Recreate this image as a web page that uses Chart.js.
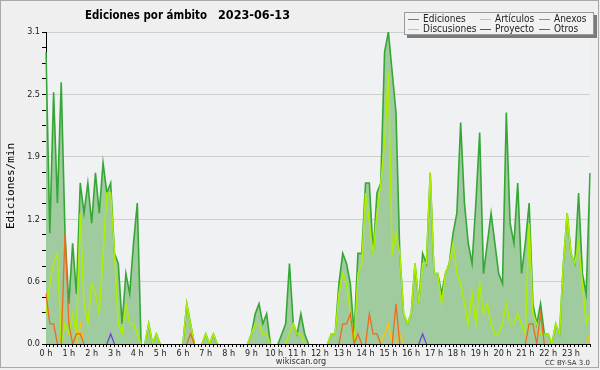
<!DOCTYPE html>
<html>
<head>
<meta charset="UTF-8">
<title>Ediciones por ámbito 2023-06-13</title>
<script src="https://cdn.jsdelivr.net/npm/chart.js@4"></script>
<style>
  html, body { margin: 0; padding: 0; background: #efefef; }
  #wrap { width: 600px; height: 370px; }
</style>
</head>
<body>
<div id="wrap"><canvas id="chart" width="600" height="370"></canvas></div>
<script>
// one value per 10 minutes, six per hour (rows = hours 0..23)
const hourLabels = ['0 h','1 h','2 h','3 h','4 h','5 h','6 h','7 h','8 h','9 h','10 h','11 h',
                    '12 h','13 h','14 h','15 h','16 h','17 h','18 h','19 h','20 h','21 h','22 h','23 h'];
const yTickLabels = ['0.0','0.6','1.2','1.9','2.5','3.1'];

const ediciones = [
  2.9, 1.1, 2.5, 1.4, 2.6, 1.1,
  0.4, 1.0, 0.5, 1.6, 1.3, 1.6,
  1.2, 1.7, 1.3, 1.8, 1.5, 1.6,
  0.9, 0.8, 0.2, 0.7, 0.5, 1.0,
  1.4, 0, 0, 0.2, 0, 0.1,
  0, 0, 0, 0, 0, 0,
  0, 0.4, 0.2, 0, 0, 0,
  0.1, 0, 0.1, 0, 0, 0,
  0, 0, 0, 0, 0, 0,
  0.1, 0.3, 0.4, 0.2, 0.3, 0,
  0, 0, 0.1, 0.2, 0.8, 0.2,
  0.1, 0.3, 0.1, 0, 0, 0,
  0, 0, 0, 0.1, 0.1, 0.6,
  0.9, 0.8, 0.6, 0.1, 0.9, 0.9,
  1.6, 1.6, 0.9, 1.5, 1.6, 2.9,
  3.1, 2.7, 2.3, 0.9, 0.3, 0.2,
  0.3, 0.8, 0.4, 0.9, 0.8, 1.7,
  0.7, 0.7, 0.5, 0.7, 0.8, 1.1,
  1.3, 2.2, 1.4, 1.0, 0.8, 1.4,
  2.1, 0.7, 1.0, 1.3, 1.0, 0.7,
  0.6, 2.3, 1.2, 1.0, 1.6, 0.7,
  1.0, 1.4, 0.4, 0.2, 0.4, 0.1,
  0.1, 0, 0.2, 0.1, 0.8, 1.3,
  0.9, 0.8, 1.5, 0.7, 0.5, 1.7
];
const articulos = [
  0.3, 0.6, 0.8, 0.9, 0, 0.2,
  0.1, 0.3, 0.1, 1.3, 0.4, 0.2,
  0.6, 0.5, 0.3, 0.9, 1.5, 1.5,
  0.9, 0.2, 0.1, 0.4, 0.2, 0.2,
  0.1, 0, 0, 0.2, 0, 0.1,
  0, 0, 0, 0, 0, 0,
  0, 0.4, 0.2, 0, 0, 0,
  0.1, 0, 0.1, 0, 0, 0,
  0, 0, 0, 0, 0, 0,
  0.1, 0.2, 0.2, 0.1, 0.1, 0,
  0, 0, 0, 0, 0.1, 0.2,
  0.1, 0.1, 0, 0, 0, 0,
  0, 0, 0, 0.1, 0.1, 0.5,
  0.7, 0.6, 0.3, 0, 0.7, 0.8,
  1.5, 1.2, 0.9, 1.3, 1.6, 2.0,
  2.7, 0.9, 1.1, 0.9, 0.3, 0.2,
  0.3, 0.8, 0.4, 0.8, 0.8, 1.7,
  0.7, 0.7, 0.4, 0.7, 0.8, 1.0,
  0.7, 0.6, 0.4, 0.2, 0.5, 0.2,
  0.6, 0.3, 0.4, 0.2, 0.1, 0.1,
  0.2, 0.4, 0.2, 0.2, 0.3, 0.2,
  0.1, 1.2, 0.3, 0.2, 0.1, 0.1,
  0.1, 0, 0.2, 0.1, 0.8, 1.3,
  0.9, 0.8, 1.0, 0.6, 0.2, 0.3
];
const anexos = [
  0.5, 0.2, 0.2, 0, 0, 1.1,
  0.2, 0, 0.1, 0.1, 0, 0,
  0, 0, 0, 0, 0, 0,
  0, 0, 0, 0, 0, 0,
  0, 0, 0, 0, 0, 0,
  0, 0, 0, 0, 0, 0,
  0, 0, 0.1, 0, 0, 0,
  0, 0, 0, 0, 0, 0,
  0, 0, 0, 0, 0, 0,
  0, 0, 0, 0, 0, 0,
  0, 0, 0, 0, 0, 0,
  0, 0, 0, 0, 0, 0,
  0, 0, 0, 0, 0, 0,
  0.2, 0.2, 0.3, 0, 0.1, 0,
  0, 0.3, 0.1, 0.1, 0, 0,
  0, 0, 0.4, 0, 0, 0,
  0, 0, 0, 0, 0, 0,
  0, 0, 0, 0, 0, 0,
  0, 0, 0, 0, 0, 0,
  0, 0, 0, 0, 0, 0,
  0, 0, 0, 0, 0, 0,
  0, 0.2, 0.2, 0, 0.3, 0,
  0, 0, 0, 0, 0, 0,
  0, 0, 0, 0, 0, 0
];
const discusiones = [
  0, 0, 0, 0, 0, 0,
  0, 0, 0, 0.2, 0, 0,
  0, 0, 0, 0, 0, 0,
  0, 0, 0, 0, 0, 0,
  0, 0, 0, 0, 0, 0,
  0, 0, 0, 0, 0, 0,
  0, 0, 0, 0, 0, 0,
  0, 0, 0, 0, 0, 0,
  0, 0, 0, 0, 0, 0,
  0, 0, 0, 0, 0, 0,
  0, 0, 0, 0, 0, 0,
  0, 0, 0, 0, 0, 0,
  0, 0, 0, 0, 0, 0,
  0, 0, 0, 0, 0, 0,
  0, 0, 0, 0, 0, 0.1,
  0.2, 0, 0, 0.1, 0, 0,
  0, 0, 0, 0, 0, 0,
  0, 0, 0, 0, 0, 0,
  0, 0, 0, 0, 0, 0,
  0, 0, 0, 0, 0, 0,
  0, 0, 0, 0, 0, 0,
  0, 0, 0, 0, 0, 0,
  0, 0, 0, 0, 0, 0,
  0, 0, 0, 0, 0, 0.1
];
const proyecto = [
  0, 0, 0, 0, 0, 0,  0, 0, 0, 0, 0, 0,  0, 0, 0, 0, 0, 0,  0, 0, 0, 0, 0, 0,
  0, 0, 0, 0, 0, 0,  0, 0, 0, 0, 0, 0,  0, 0, 0, 0, 0, 0,  0, 0, 0, 0, 0, 0,
  0, 0, 0, 0, 0, 0,  0, 0, 0, 0, 0, 0,  0, 0, 0, 0, 0, 0,  0, 0, 0, 0, 0, 0,
  0, 0, 0, 0, 0, 0,  0, 0, 0, 0, 0, 0,  0, 0, 0, 0, 0, 0,  0, 0, 0, 0, 0, 0,
  0, 0, 0, 0, 0, 0,  0, 0, 0, 0, 0, 0,  0, 0, 0, 0, 0, 0,  0, 0, 0, 0, 0, 0,
  0, 0, 0, 0, 0, 0,  0, 0, 0, 0, 0, 0,  0, 0, 0, 0, 0, 0,  0, 0, 0, 0, 0, 0
];
const otros = [
  0, 0, 0, 0, 0, 0,
  0, 0, 0, 0, 0, 0,
  0, 0, 0, 0, 0, 0.1,
  0, 0, 0, 0, 0, 0,
  0, 0, 0, 0, 0, 0,
  0, 0, 0, 0, 0, 0,
  0, 0, 0, 0, 0, 0,
  0, 0, 0, 0, 0, 0,
  0, 0, 0, 0, 0, 0,
  0, 0, 0, 0, 0, 0,
  0, 0, 0, 0, 0, 0,
  0, 0, 0, 0, 0, 0,
  0, 0, 0, 0, 0, 0,
  0, 0, 0, 0, 0, 0,
  0, 0, 0, 0, 0, 0,
  0, 0, 0, 0, 0, 0,
  0, 0, 0, 0.1, 0, 0,
  0, 0, 0, 0, 0, 0,
  0, 0, 0, 0, 0, 0,
  0, 0, 0, 0, 0, 0,
  0, 0, 0, 0, 0, 0,
  0, 0, 0, 0, 0, 0,
  0, 0, 0, 0, 0, 0,
  0, 0, 0, 0, 0, 0
];

const colors = {
  ediciones: '#36a736',
  fill: '#9fcb9e',
  articulos: '#aeee00',
  anexos: '#f26a1b',
  discusiones: '#ffc400',
  proyecto: '#555555',
  otros: '#7a3ef0'
};

const slots = [];
for (let h = 0; h < 24; h++)
  for (let m = 0; m < 60; m += 10) slots.push(h + ':' + String(m).padStart(2, '0'));

const yMax = 3.1;
const yMinor = [];
for (let k = 0; k <= 20; k++) yMinor.push(k * yMax / 20);

const tickFont = { family: '"DejaVu Sans Condensed", "DejaVu Sans", sans-serif', size: 9 };

// flat runs at zero are not drawn (they would sit on the axis)
const hideFlat = c => (c.p0.parsed.y === 0 && c.p1.parsed.y === 0) ? 'rgba(0,0,0,0)' : undefined;

function line(label, data, color, order, width) {
  return {
    label, data, order,
    borderColor: color, borderWidth: width || 1.3,
    pointRadius: 0, tension: 0, fill: false,
    segment: { borderColor: hideFlat }
  };
}

// draw text squeezed into a given width
function fitText(ctx, text, x, y, width) {
  const w = ctx.measureText(text).width;
  ctx.save();
  ctx.translate(x, y);
  ctx.scale(Math.min(1, width / w), 1);
  ctx.fillText(text, 0, 0);
  ctx.restore();
}

const decor = {
  id: 'decor',
  beforeDraw(chart) {
    const { ctx, chartArea: a } = chart;
    ctx.save();
    ctx.fillStyle = '#efefef';
    ctx.fillRect(0, 0, chart.width, chart.height);
    ctx.fillStyle = '#f0f1f3';
    ctx.fillRect(a.left, a.top, a.right - a.left, a.bottom - a.top);
    ctx.restore();
  },
  afterDraw(chart) {
    const ctx = chart.ctx;
    ctx.save();
    // title
    ctx.fillStyle = '#000';
    ctx.textBaseline = 'alphabetic';
    ctx.font = 'bold 12px "DejaVu Sans", sans-serif';
    ctx.textAlign = 'left';
    fitText(ctx, 'Ediciones por ámbito', 85, 19, 122);
    fitText(ctx, '2023-06-13', 218, 19, 72);

    // y axis title
    ctx.save();
    ctx.translate(11, 186);
    ctx.rotate(-Math.PI / 2);
    ctx.textAlign = 'center';
    ctx.textBaseline = 'middle';
    ctx.font = '11px "DejaVu Sans Mono", monospace';
    ctx.fillText('Ediciones/min', 0, 0);
    ctx.restore();

    // legend box with shadow
    ctx.fillStyle = '#7a7a7a';
    ctx.fillRect(407, 15, 190, 23);
    ctx.fillStyle = '#f2f2f2';
    ctx.fillRect(404, 12, 190, 23);
    ctx.strokeStyle = '#9a9a9a';
    ctx.lineWidth = 1;
    ctx.strokeRect(404.5, 12.5, 189, 22);
    const items = [
      ['Ediciones', colors.ediciones, 408, 19],
      ['Artículos', colors.articulos, 480, 19],
      ['Anexos', colors.anexos, 539, 19],
      ['Discusiones', colors.discusiones, 408, 29],
      ['Proyecto', colors.proyecto, 480, 29],
      ['Otros', colors.otros, 539, 29]
    ];
    ctx.font = '10px "DejaVu Sans Condensed", "DejaVu Sans", sans-serif';
    ctx.textAlign = 'left';
    ctx.textBaseline = 'middle';
    items.forEach(([t, c, x, y]) => {
      ctx.strokeStyle = c;
      ctx.beginPath();
      ctx.moveTo(x, y + 0.5);
      ctx.lineTo(x + 11, y + 0.5);
      ctx.stroke();
      ctx.fillStyle = '#222';
      ctx.fillText(t, x + 15, y);
    });

    // footer
    ctx.fillStyle = '#333';
    ctx.textAlign = 'center';
    ctx.font = '9px "DejaVu Sans Condensed", "DejaVu Sans", sans-serif';
    ctx.fillText('wikiscan.org', 301, 362);
    ctx.textAlign = 'right';
    ctx.font = '7px "DejaVu Sans", sans-serif';
    ctx.fillText('CC BY-SA 3.0', 590, 363);

    // outer frame
    ctx.strokeStyle = '#a8a8a8';
    ctx.strokeRect(0.5, 0.5, 598, 367);
    ctx.restore();
  }
};

new Chart(document.getElementById('chart'), {
  type: 'line',
  data: {
    labels: slots,
    datasets: [
      Object.assign(line('Ediciones', ediciones, colors.ediciones, 10, 1.6), {
        fill: 'origin', backgroundColor: colors.fill
      }),
      line('Artículos', articulos, colors.articulos, 5, 1.5),
      line('Anexos', anexos, colors.anexos, 2),
      line('Discusiones', discusiones, colors.discusiones, 3),
      line('Proyecto', proyecto, colors.proyecto, 4),
      line('Otros', otros, colors.otros, 1)
    ]
  },
  options: {
    responsive: false,
    animation: false,
    layout: { padding: { top: 32, right: 10, left: 0, bottom: 0 } },
    plugins: { legend: { display: false }, title: { display: false }, tooltip: { enabled: false } },
    scales: {
      x: {
        type: 'category',
        offset: false,
        afterFit: s => { s.height = 26; },
        border: { color: '#000', width: 1 },
        grid: { drawOnChartArea: false, tickColor: '#000', tickLength: 3 },
        ticks: {
          autoSkip: false, maxRotation: 0, padding: 1, color: '#222', font: tickFont,
          callback: (v, i) => i % 6 === 0 ? hourLabels[i / 6] : ''
        }
      },
      y: {
        min: 0, max: yMax,
        afterBuildTicks: s => { s.ticks = yMinor.map(v => ({ value: v })); },
        afterFit: s => { s.width = 46; },
        border: { color: '#000', width: 1 },
        grid: {
          color: c => c.index % 4 === 0 ? '#cfcfcf' : 'rgba(0,0,0,0)',
          tickColor: '#000', tickLength: 4
        },
        ticks: {
          autoSkip: false, padding: 2, color: '#222', font: tickFont,
          callback: (v, i) => i % 4 === 0 ? yTickLabels[i / 4] : ''
        }
      }
    }
  },
  plugins: [decor]
});
</script>
</body>
</html>
